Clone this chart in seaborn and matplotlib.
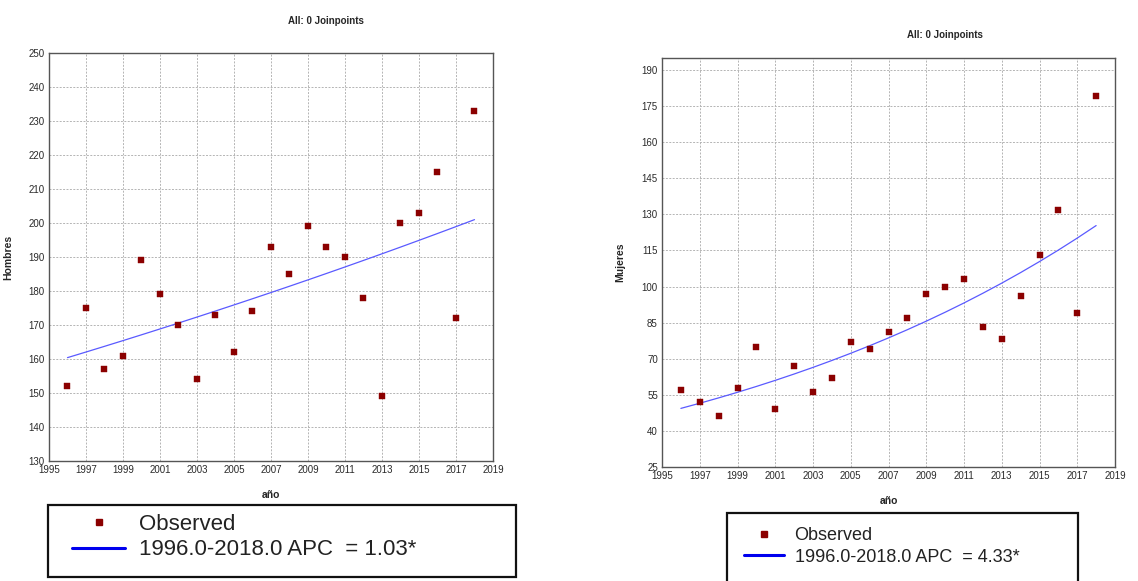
import numpy as np
import pandas as pd
import matplotlib
matplotlib.use("Agg")
import matplotlib.pyplot as plt
from matplotlib.lines import Line2D
from matplotlib.patches import Rectangle
import seaborn as sns

# data (Joinpoint output)
years = list(range(1996, 2019))
hombres = [152, 175, 157, 161, 189, 179, 170, 154, 173, 162, 174, 193,
           185, 199, 193, 190, 178, 149, 200, 203, 215, 172, 233]
mujeres = [57, 52, 46, 58, 75, 49, 67, 56, 62, 77, 74, 81,
           87, 97, 100, 103, 83, 78, 96, 113, 132, 89, 179]
hombres_yticks = list(range(130, 251, 10))
mujeres_yticks = list(range(25, 191, 15))
xticks = list(range(1995, 2020, 2))

sns.set_theme(style="whitegrid")
plt.rcParams["font.family"] = ["Liberation Sans Narrow", "Liberation Sans", "DejaVu Sans"]

obs_color = "#8b0000"
fit_color = "#5a5aff"


def loglinear_fit(x, y):
    # log-linear trend like Joinpoint with 0 joinpoints
    x = np.asarray(x, dtype=float)
    b, a = np.polyfit(x, np.log(y), 1)
    apc = (np.exp(b) - 1) * 100
    return np.exp(a + b * x), apc


def draw_panel(ax, df, ylabel, yticks, ylim, ylab_x):
    sns.scatterplot(data=df, x="year", y="obs", ax=ax, marker="s", s=20,
                    color=obs_color, edgecolor=obs_color, linewidth=0.3, zorder=3)
    sns.lineplot(data=df, x="year", y="fit", ax=ax, color=fit_color, lw=0.9, zorder=2)
    ax.set_xlim(1995, 2019)
    ax.set_ylim(*ylim)
    ax.set_xticks(xticks)
    ax.set_yticks(yticks)
    ax.tick_params(length=0, labelsize=7, colors="#2a2a2a", pad=3)
    ax.grid(True, color="#b4b4b4", linestyle=(0, (2, 1.5)), lw=0.7)
    for s in ax.spines.values():
        s.set_color("#555555")
        s.set_linewidth(1.0)
    ax.set_xlabel("año", fontsize=7.5, fontweight="bold", family="Liberation Sans")
    ax.set_ylabel(ylabel, fontsize=7.5, fontweight="bold", family="Liberation Sans")
    ax.xaxis.set_label_coords(0.5, -0.071)
    ax.yaxis.set_label_coords(ylab_x, 0.5)


fit_h, apc_h = loglinear_fit(years, hombres)
fit_m, apc_m = loglinear_fit(years, mujeres)
df_h = pd.DataFrame({"year": years, "obs": hombres, "fit": fit_h})
df_m = pd.DataFrame({"year": years, "obs": mujeres, "fit": fit_m})

fig = plt.figure(figsize=(11.38, 5.81), dpi=100)
ax1 = fig.add_axes([49 / 1138, 1 - 461 / 581, 444 / 1138, 408 / 581])
ax2 = fig.add_axes([662 / 1138, 1 - 467 / 581, 453 / 1138, 409 / 581])

draw_panel(ax1, df_h, "Hombres", hombres_yticks, (130, 250), -0.080)
draw_panel(ax2, df_m, "Mujeres", mujeres_yticks, (25, 195), -0.082)

fig.text(326 / 1138, 1 - 21 / 581, "All: 0 Joinpoints", ha="center", va="center",
         fontsize=7, fontweight="bold", family="Liberation Sans")
fig.text(945 / 1138, 1 - 35 / 581, "All: 0 Joinpoints", ha="center", va="center",
         fontsize=7, fontweight="bold", family="Liberation Sans")


def legend_box(x0, y0, x1, y1, anchor, fontsize, hlen, spacing, apc):
    fig.patches.append(Rectangle((x0 / 1138, 1 - y1 / 581), (x1 - x0) / 1138, (y1 - y0) / 581,
                                 transform=fig.transFigure, fill=False,
                                 edgecolor="#111111", lw=1.6))
    handles = [Line2D([], [], ls="none", marker="s", ms=5, color=obs_color),
               Line2D([], [], color="#0000ee", lw=2.2)]
    labels = ["Observed", "1996.0-2018.0 APC  = %.2f*" % apc]
    fig.legend(handles, labels, loc="upper left",
               bbox_to_anchor=(anchor[0] / 1138, 1 - anchor[1] / 581),
               frameon=False, handlelength=hlen,
               handletextpad=0.6, labelspacing=spacing, borderpad=0, borderaxespad=0,
               prop={"family": "Liberation Sans", "size": fontsize},
               labelcolor="#222222")


legend_box(48, 505, 516, 577, (72, 514), 16, 2.4, 0.2, apc_h)
legend_box(727, 513, 1078, 590, (744, 527), 13, 2.2, 0.25, apc_m)

fig.savefig("out.png", dpi=100)
